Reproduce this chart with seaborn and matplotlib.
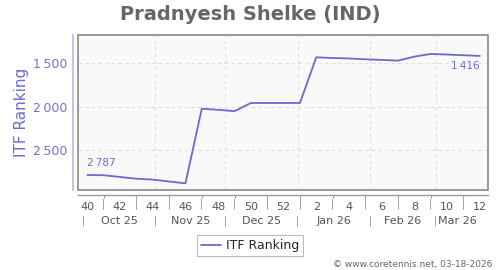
import numpy as np
import pandas as pd
import seaborn as sns
import matplotlib
matplotlib.use("Agg")
import matplotlib.pyplot as plt
from matplotlib.patches import Rectangle
from matplotlib.ticker import FixedLocator, FuncFormatter
from matplotlib.lines import Line2D

# ---- data ----
weeks = [40, 41, 42, 43, 44, 45, 46, 47, 48, 49, 50, 51, 52,
         1, 2, 3, 4, 5, 6, 7, 8, 9, 10, 11, 12]
ranking = [2787, 2790, 2810, 2830, 2840, 2862, 2883, 2023, 2037, 2052, 1958, 1958, 1958,
           1958, 1432, 1440, 1445, 1455, 1462, 1470, 1424, 1393, 1400, 1408, 1416]
week_labels = ["40", "42", "44", "46", "48", "50", "52", "2", "4", "6", "8", "10", "12"]
month_labels = ["Oct 25", "Nov 25", "Dec 25", "Jan 26", "Feb 26", "Mar 26"]
month_days = [31, 30, 31, 31, 28]  # lengths of Oct..Feb
y_ticks = [1500, 2000, 2500]
title = "Pradnyesh Shelke (IND)"
series_name = "ITF Ranking"
footer = "\u00a9 www.coretennis.net, 03-18-2026"

idx = list(range(len(weeks)))
df = pd.DataFrame({"idx": idx, "rank": ranking, "series": series_name})

LINE = "#6a6ad0"
TXT = "#555555"

sns.set_theme(style="white")
plt.rcParams['font.family'] = ['DejaVu Sans']

fig = plt.figure(figsize=(5, 2.7), dpi=100)
ax = fig.add_axes([78/500, 1-190/270, 410/500, 155/270])
ax.set_facecolor("#f9f9f9")

sns.lineplot(data=df, x="idx", y="rank", hue="series", palette=[LINE],
             linewidth=1.3, ax=ax, legend=False)

ax.set_xlim(-0.57, 24.5)
ax.set_ylim(2960, 1175)

# month boundaries in index units
first = -0.27
bounds = [first]
for d in month_days:
    bounds.append(bounds[-1] + d / 7.0)

# grid
for yv in y_ticks:
    ax.axhline(yv, color="#dddddd", lw=0.8, ls=(0, (3, 3)), zorder=0)
for b in bounds[1:]:
    ax.axvline(b, color="#dddddd", lw=0.8, ls=(0, (3, 3)), zorder=0)

# frame
for s in ax.spines.values():
    s.set_visible(False)
ax.add_patch(Rectangle((0, 0), 1, 1, transform=ax.transAxes, fill=False,
                       edgecolor="#888888", lw=1.2, zorder=5, clip_on=False))
ax.spines['left'].set_visible(True)
ax.spines['left'].set_position(('outward', 3.6))
ax.spines['left'].set_color("#b8b8e6")
ax.spines['left'].set_linewidth(1.2)
ax.spines['bottom'].set_visible(True)
ax.spines['bottom'].set_position(('outward', 3.6))
ax.spines['bottom'].set_color("#999999")
ax.spines['bottom'].set_linewidth(1.0)

# y ticks
ax.set_yticks(y_ticks)
ax.yaxis.set_major_formatter(FuncFormatter(lambda v, p: f"{int(v):,}".replace(",", "\u2009")))
ax.tick_params(axis='y', length=0, pad=4, labelsize=9, labelcolor="#7070cc")
ax.set_ylabel(series_name, color="#6a6ad0", fontsize=11, labelpad=3)

# x ticks
even_idx = idx[::2]
ax.set_xticks(even_idx)
ax.set_xticklabels(week_labels)
ax.xaxis.set_minor_locator(FixedLocator(idx[1::2]))
ax.tick_params(axis='x', which='major', length=0, pad=5, labelsize=8, labelcolor=TXT)
ax.tick_params(axis='x', which='minor', length=2.5, width=0.8, color="#999999", bottom=True)
ax.set_xlabel("")

trans = ax.get_xaxis_transform()
# week separators
for o in idx[1::2]:
    ax.text(o, -0.09, "|", transform=trans, ha="center", va="center",
            fontsize=7, color="#888888", clip_on=False)
# month labels and separators
ends = bounds[1:] + [idx[-1]]
for i, m in enumerate(month_labels):
    left = max(bounds[i], -0.57)
    ax.text((left + ends[i]) / 2, -0.2, m, transform=trans, ha="center", va="center",
            fontsize=8, color=TXT, clip_on=False)
for b in bounds:
    ax.text(b, -0.2, "|", transform=trans, ha="center", va="center",
            fontsize=7, color="#888888", clip_on=False)

# annotations
ax.annotate(f"{ranking[0]:,}".replace(",", "\u2009"), (idx[0], ranking[0]),
            xytext=(0, 5), textcoords="offset points", ha="left", va="bottom",
            fontsize=7.5, color=LINE)
ax.annotate(f"{ranking[-1]:,}".replace(",", "\u2009"), (idx[-1], ranking[-1]),
            xytext=(0, -4), textcoords="offset points", ha="right", va="top",
            fontsize=7.5, color=LINE)

fig.text(0.5, 1 - 14/270, title, ha="center", va="center", fontsize=14,
         fontweight="bold", color="#666666")

h = [Line2D([0], [0], color=LINE, lw=1.3)]
leg = fig.legend(h, [series_name], loc="center", bbox_to_anchor=(0.5, 1 - 245.5/270),
                 frameon=True, fancybox=False, fontsize=9, handlelength=1.6,
                 handletextpad=0.4, borderpad=0.3, borderaxespad=0)
leg.get_frame().set_edgecolor("#aaaaaa")
leg.get_frame().set_linewidth(0.8)

fig.text(492/500, 1 - 264/270, footer, ha="right", va="center", fontsize=6.5, color="#666666")

fig.savefig("out.png", dpi=100)
